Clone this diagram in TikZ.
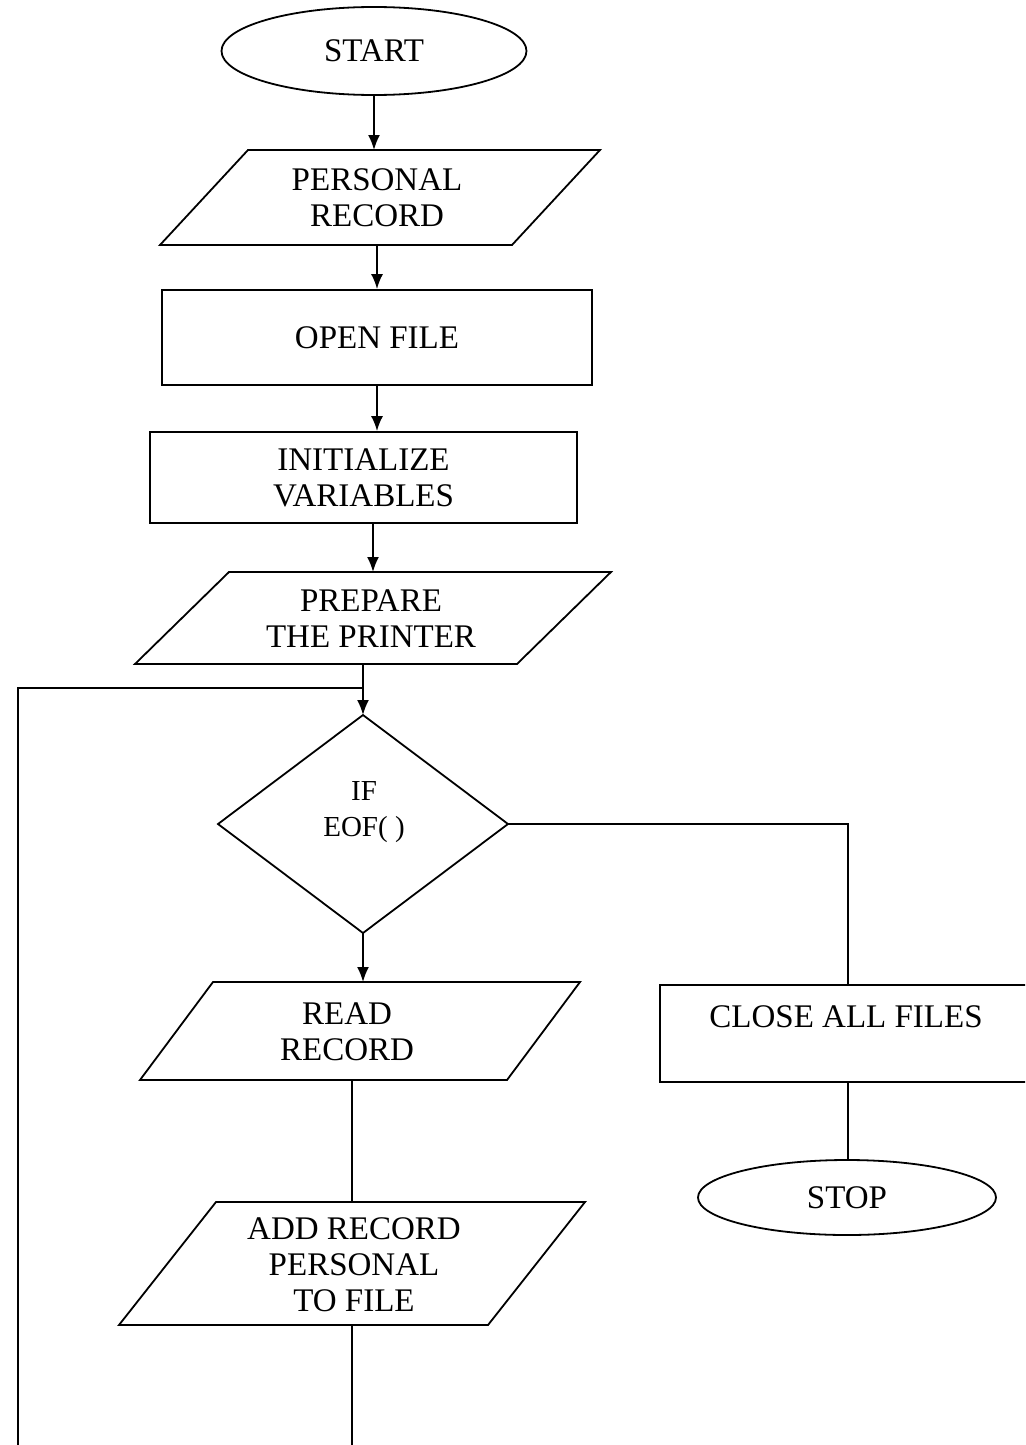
\documentclass[tikz,border=0pt]{standalone}
\usepackage{fontspec}
\setmainfont{Liberation Serif}
\usetikzlibrary{shapes.geometric,arrows.meta,calc}

% parallelogram (input/output) drawn over an invisible bounding node
\newcommand\iopath[2]{%
  \draw[line] ([xshift=#2]#1.north west) -- (#1.north east)
    -- ([xshift=-#2]#1.south east) -- (#1.south west) -- cycle;}

\begin{document}
\begin{tikzpicture}[x=1pt,y=-1pt,
  line/.style={line width=1.8pt,line join=miter},
  arrow/.style={line,-{Latex[length=15pt,width=12pt]}},
  txt/.style={font=\fontsize{33}{36}\selectfont,align=center,inner sep=0pt},
  smalltxt/.style={font=\fontsize{29}{36}\selectfont,align=center,inner sep=0pt},
  terminal/.style={txt,ellipse,draw,line width=1.8pt},
  procbox/.style={txt,rectangle,draw,line width=1.8pt},
  iobox/.style={txt,rectangle,draw=none,outer sep=0pt},
  decision/.style={diamond,draw,line width=1.8pt,inner sep=0pt,outer sep=0pt}]

\clip (0,0) rectangle (1025,1445);
\fill[white] (0,0) rectangle (1025,1445);

% main column
\node[terminal,minimum width=305,minimum height=88] (start) at (374,51) {START};

\node[iobox,minimum width=440,minimum height=95] (pers) at (380,197.5) {};
\iopath{pers}{88}
\node[txt] (perst) at (377,198) {PERSONAL\\RECORD};

\node[procbox,minimum width=430,minimum height=95] (open) at (377,337.5) {OPEN FILE};

\node[procbox,minimum width=427,minimum height=91] (init) at (363.5,477.5) {INITIALIZE\\VARIABLES};

\node[iobox,minimum width=476,minimum height=92] (prep) at (373,618) {};
\iopath{prep}{94}
\node[txt] (prept) at (371,619) {PREPARE\\THE PRINTER};

\node[decision,minimum width=290,minimum height=218] (dia) at (363,824) {};
\node[smalltxt] (diat) at (364,812) {IF\\EOF(\ )};

\node[iobox,minimum width=440,minimum height=98] (read) at (360,1031) {};
\iopath{read}{73}
\node[txt] (readt) at (347,1032) {READ\\RECORD};

\node[iobox,minimum width=466,minimum height=123] (add) at (352,1263.5) {};
\iopath{add}{97}
\node[txt] (addt) at (354,1265) {ADD RECORD\\PERSONAL\\TO FILE};

% right column
\node[procbox,minimum width=376,minimum height=97] (close) at (848,1033.5) {};
\node[txt] (closet) at (846,1017) {CLOSE ALL FILES};

\node[terminal,minimum width=298,minimum height=75] (stop) at (847,1197.5) {STOP};

% loop-back points
\coordinate (join) at (363,688);
\coordinate (loopfoot) at (18,1460);
\coordinate (addfoot) at (352,1460);

% connectors
\draw[arrow] (start.south) -- (start.south |- pers.north);
\draw[arrow] (pers.south -| open.north) -- (open.north);
\draw[arrow] (open.south) -- (open.south |- init.north);
\draw[arrow] (init.south -| prep.north) -- (prep.north);
\draw[arrow] (prep.south -| dia.north) -- (dia.north);
\draw[line] (loopfoot) |- (join);
\draw[arrow] (dia.south) -- (dia.south |- read.north);
\draw[line] (read.south -| add.north) -- (add.north);
\draw[line] (add.south -| addfoot) -- (addfoot);
\draw[line] (dia.east) -| (close.north);
\draw[line] (close.south) -- (close.south |- stop.north);
\end{tikzpicture}
\end{document}
